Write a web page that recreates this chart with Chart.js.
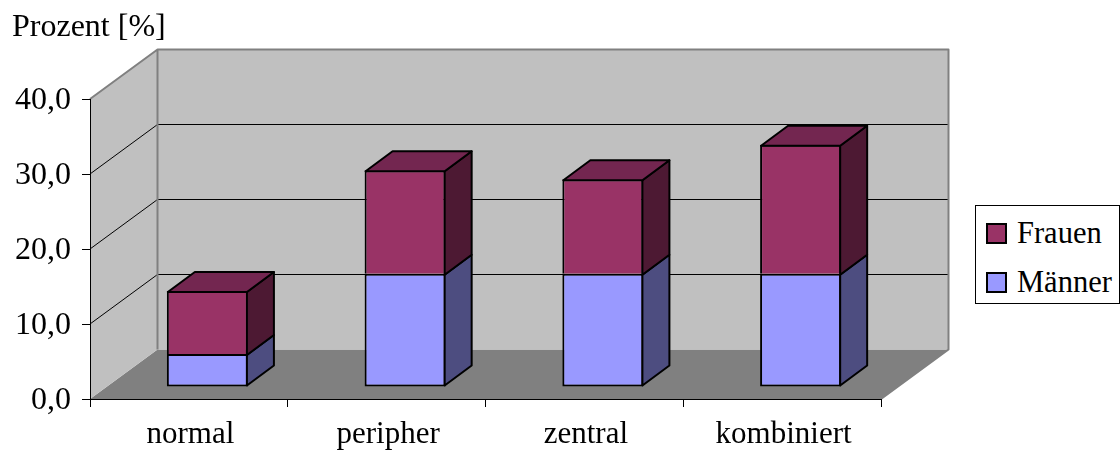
<!DOCTYPE html>
<html lang="de">
<head>
    <meta charset="UTF-8">
    <title>Prozent</title>
    <script src="https://cdn.jsdelivr.net/npm/chart.js"></script>
    <style>
        html, body { margin: 0; padding: 0; background: #fff; }
        #wrap { position: relative; width: 1120px; height: 450px; overflow: hidden; }
        canvas { position: absolute; left: 0; top: 0; }
        #legend { position: absolute; left: 975px; top: 205px; width: 143px; height: 97px; box-sizing: content-box;
                  border: 1px solid #000; background: #fff; font: 30.5px "Liberation Serif", serif; color: #000; }
        .item { position: absolute; left: 0; height: 34px; line-height: 34px; white-space: nowrap; }
        .box { position: absolute; left: 10px; top: 7px; width: 17px; height: 17px; border: 2px solid #000; }
        .item span { position: absolute; left: 41px; top: 0; }
    </style>
</head>
<body>
    <div id="wrap">
        <canvas id="chart" width="1120" height="450"></canvas>
        <div id="legend"></div>
    </div>
    <script>
        const categories = ['normal', 'peripher', 'zentral', 'kombiniert'];
        const maenner = [4.4, 15.1, 15.1, 15.1];
        const frauen = [8.4, 13.8, 12.6, 17.2];
        const yTickLabels = ['0,0', '10,0', '20,0', '30,0', '40,0'];
        const yTickValues = [0, 10, 20, 30, 40];

        const fontName = '"Liberation Serif", serif';
        // depth of the box behind the axes, offset of the bars into it, depth of a bar
        const room = { dx: 67.5, dy: -49.5 };
        const barShift = { dx: 18.5, dy: -12 };
        const barDepth = { dx: 27, dy: -20 };

        function poly(ctx, pts, fill, stroke, lw) {
            ctx.beginPath();
            pts.forEach((p, i) => i ? ctx.lineTo(p[0], p[1]) : ctx.moveTo(p[0], p[1]));
            ctx.closePath();
            if (fill) { ctx.fillStyle = fill; ctx.fill(); }
            if (stroke) { ctx.strokeStyle = stroke; ctx.lineWidth = lw; ctx.stroke(); }
        }

        // back wall, side wall, floor and their gridlines
        const roomPlugin = {
            id: 'room',
            beforeDraw(chart) {
                const ctx = chart.ctx, y = chart.scales.y, a = chart.chartArea;
                const l = a.left, r = a.right, y0 = y.getPixelForValue(0), yMax = y.getPixelForValue(40);
                const d = room;
                ctx.save();
                ctx.lineJoin = 'round';
                poly(ctx, [[l, y0], [l + d.dx, y0 + d.dy], [r + d.dx, y0 + d.dy], [r, y0]], '#808080');
                poly(ctx, [[l, y0], [l, yMax], [l + d.dx, yMax + d.dy], [l + d.dx, y0 + d.dy]], '#c0c0c0');
                poly(ctx, [[l + d.dx, y0 + d.dy], [l + d.dx, yMax + d.dy], [r + d.dx, yMax + d.dy], [r + d.dx, y0 + d.dy]], '#c0c0c0');

                ctx.strokeStyle = '#000';
                ctx.lineWidth = 1;
                ctx.beginPath();
                yTickValues.slice(1, -1).forEach(v => {
                    const py = Math.round(y.getPixelForValue(v) + d.dy) - 0.5;
                    ctx.moveTo(l, y.getPixelForValue(v));
                    ctx.lineTo(l + d.dx, py);
                    ctx.lineTo(r + d.dx, py);
                });
                ctx.stroke();

                ctx.strokeStyle = '#808080';
                ctx.lineWidth = 2;
                ctx.beginPath();
                ctx.moveTo(l, yMax);
                ctx.lineTo(l + d.dx, yMax + d.dy);
                ctx.lineTo(r + d.dx, yMax + d.dy);
                ctx.lineTo(r + d.dx, y0 + d.dy);
                ctx.lineTo(r, y0);
                ctx.moveTo(l + d.dx, yMax + d.dy);
                ctx.lineTo(l + d.dx, y0 + d.dy);
                ctx.stroke();
                ctx.restore();
            }
        };

        // shift the front faces into the room and add the side and top faces
        const boxPlugin = {
            id: 'boxes',
            beforeDatasetDraw(chart) {
                chart.ctx.save();
                chart.ctx.translate(barShift.dx, barShift.dy);
            },
            afterDatasetDraw(chart) {
                chart.ctx.restore();
            },
            afterDatasetsDraw(chart) {
                const ctx = chart.ctx;
                const last = chart.data.datasets.length - 1;
                ctx.save();
                ctx.translate(barShift.dx, barShift.dy);
                ctx.lineJoin = 'round';
                chart.data.datasets.forEach((ds, i) => {
                    chart.getDatasetMeta(i).data.forEach(bar => {
                        const p = bar.getProps(['x', 'y', 'base', 'width'], true);
                        const right = p.x + p.width / 2 - 1, left = p.x - p.width / 2 + 1;
                        const top = p.y + 1, bottom = i === 0 ? p.base - 1 : p.base + 1;
                        const dx = barDepth.dx, dy = barDepth.dy;
                        poly(ctx, [[right, top], [right + dx, top + dy], [right + dx, bottom + dy], [right, bottom]], ds.sideColor, '#000', 2);
                        if (i === last) {
                            poly(ctx, [[left, top], [left + dx, top + dy], [right + dx, top + dy], [right, top]], ds.topColor, '#000', 2);
                        }
                    });
                });
                ctx.restore();
            }
        };

        new Chart(document.getElementById('chart'), {
            type: 'bar',
            data: {
                labels: categories,
                datasets: [
                    { label: 'Männer', data: maenner, backgroundColor: '#9999ff', sideColor: '#4d4d80', borderColor: '#000', borderWidth: 2, borderSkipped: false, clip: false },
                    { label: 'Frauen', data: frauen, backgroundColor: '#993366', sideColor: '#4d1933', topColor: '#732650', borderColor: '#000', borderWidth: 2, borderSkipped: 'bottom', clip: false }
                ]
            },
            options: {
                responsive: false,
                animation: false,
                layout: { padding: { left: 12, right: 239, top: 0, bottom: 0 } },
                categoryPercentage: 1,
                barPercentage: 0.41,
                plugins: {
                    legend: { display: false },
                    tooltip: { enabled: false },
                    title: {
                        display: true,
                        text: 'Prozent [%]',
                        align: 'start',
                        color: '#000',
                        font: { family: fontName, size: 32, weight: 'normal' },
                        padding: { top: 8, bottom: 52.6 }
                    }
                },
                scales: {
                    x: {
                        stacked: true,
                        afterFit(s) { s.height = 51; },
                        border: { color: '#000', width: 1 },
                        grid: { offset: true, drawOnChartArea: false, color: '#000', tickLength: 8 },
                        ticks: { color: '#000', padding: 9, labelOffset: 1.5, maxRotation: 0, font: { family: fontName, size: 31 } }
                    },
                    y: {
                        stacked: true,
                        min: 0,
                        max: 40,
                        afterFit(s) { s.width = 78; },
                        border: { color: '#000', width: 1 },
                        grid: { drawOnChartArea: false, color: '#000', tickLength: 8 },
                        ticks: {
                            stepSize: 10,
                            color: '#000',
                            padding: 11,
                            labelOffset: 2,
                            font: { family: fontName, size: 32 },
                            callback: (v) => yTickLabels[yTickValues.indexOf(v)]
                        }
                    }
                }
            },
            plugins: [roomPlugin, boxPlugin]
        });

        // legend lists the top series first
        const legend = document.getElementById('legend');
        [['Frauen', '#993366', 10], ['Männer', '#9999ff', 59]].forEach(([name, color, top]) => {
            const item = document.createElement('div');
            item.className = 'item';
            item.style.top = top + 'px';
            const box = document.createElement('div');
            box.className = 'box';
            box.style.backgroundColor = color;
            const text = document.createElement('span');
            text.textContent = name;
            item.appendChild(box);
            item.appendChild(text);
            legend.appendChild(item);
        });
    </script>
</body>
</html>
